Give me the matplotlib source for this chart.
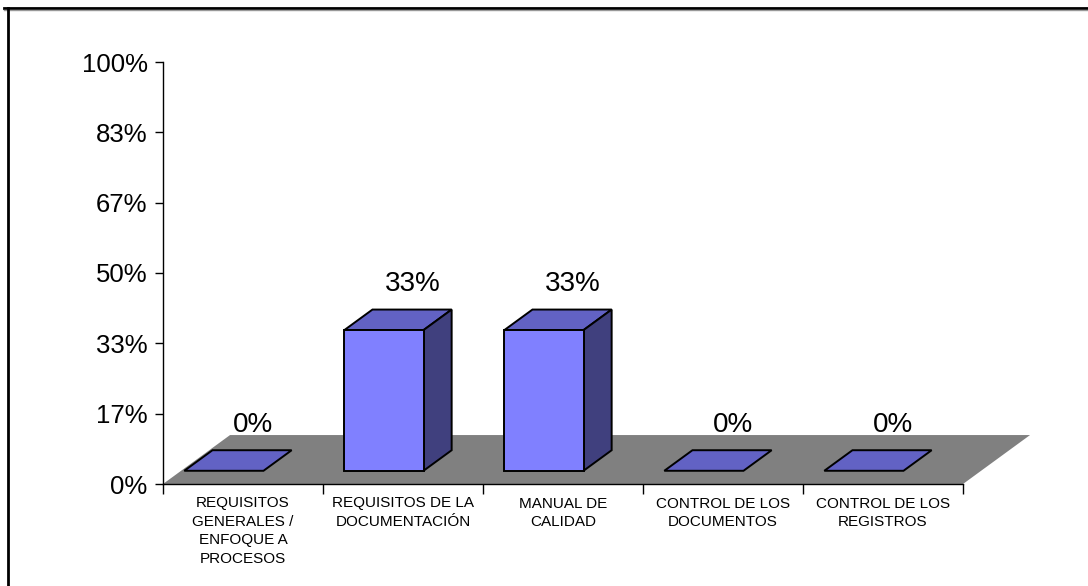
import matplotlib
matplotlib.use("Agg")
import matplotlib.pyplot as plt
from matplotlib.patches import Polygon
from matplotlib.lines import Line2D

plt.rcParams["font.family"] = ["Liberation Sans", "DejaVu Sans"]

categories = [
    "REQUISITOS\nGENERALES /\nENFOQUE A\nPROCESOS",
    "REQUISITOS DE LA\nDOCUMENTACIÓN",
    "MANUAL DE\nCALIDAD",
    "CONTROL DE LOS\nDOCUMENTOS",
    "CONTROL DE LOS\nREGISTROS",
]
values = [0, 1 / 3, 1 / 3, 0, 0]
value_labels = ["0%", "33%", "33%", "0%", "0%"]
yticks = [0, 1 / 6, 2 / 6, 3 / 6, 4 / 6, 5 / 6, 1]
yticklabels = ["0%", "17%", "33%", "50%", "67%", "83%", "100%"]

FRONT = "#8080ff"
TOP = "#6262c4"
SIDE = "#40407e"
FLOOR = "#808080"

# oblique projection of the depth axis (category units, value units)
DX, DY = 0.419, 0.116
D0, D1 = 0.27, 0.69          # bar front / back depth
BL, BR = 0.02, 0.515         # bar left / right inside its category


def proj(x, y, d):
    return (x + d * DX, y + d * DY)


W, H = 1088, 586
fig = plt.figure(figsize=(W / 100, H / 100), dpi=100)
ax = fig.add_axes([163 / W, 1 - 484 / H, 800 / W, 422 / H])
ax.set_xlim(0, len(categories))
ax.set_ylim(0, 1)

# floor
n = len(categories)
floor = [proj(0, 0, 0), proj(n, 0, 0), proj(n, 0, 1), proj(0, 0, 1)]
ax.add_patch(Polygon(floor, closed=True, facecolor=FLOOR, edgecolor="none",
                     clip_on=False, zorder=1))

ekw = dict(edgecolor="black", linewidth=1.4, joinstyle="miter", clip_on=False, zorder=3)
for i, (v, lab) in enumerate(zip(values, value_labels)):
    x0, x1 = i + BL, i + BR
    # top face
    ax.add_patch(Polygon([proj(x0, v, D0), proj(x1, v, D0), proj(x1, v, D1), proj(x0, v, D1)],
                         facecolor=TOP, **ekw))
    if v > 0:
        # right side face
        ax.add_patch(Polygon([proj(x1, 0, D0), proj(x1, 0, D1), proj(x1, v, D1), proj(x1, v, D0)],
                             facecolor=SIDE, **ekw))
        # front face
        ax.add_patch(Polygon([proj(x0, 0, D0), proj(x1, 0, D0), proj(x1, v, D0), proj(x0, v, D0)],
                             facecolor=FRONT, **ekw))
    lx, ly = proj((x0 + x1) / 2, v, D1)
    ax.text(lx + 0.006, ly + 0.06, lab, ha="center", va="center", fontsize=20, zorder=4)

# axes styling
for s in ("top", "right"):
    ax.spines[s].set_visible(False)
ax.spines["left"].set_linewidth(1.0)
ax.spines["bottom"].set_linewidth(1.0)
ax.spines["bottom"].set_zorder(5)

ax.set_yticks(yticks)
ax.set_yticklabels(yticklabels, fontsize=18.5)
ax.tick_params(axis="y", direction="out", length=6, width=1, pad=5)

ax.set_xticks(range(n + 1))
ax.set_xticklabels([])
ax.set_xticks([i + 0.5 for i in range(n)], minor=True)
ax.set_xticklabels(categories, minor=True, fontsize=11, linespacing=1.4)
ax.tick_params(axis="x", which="major", direction="out", length=7, width=1)
ax.tick_params(axis="x", which="minor", length=0, pad=9)

# outer frame
fig.add_artist(Line2D([4 / W, 1], [1 - 8 / H, 1 - 8 / H], color="black", linewidth=2))
fig.add_artist(Line2D([4 / W, 1], [1 - 10 / H, 1 - 10 / H], color="#999999", linewidth=1))
fig.add_artist(Line2D([8 / W, 8 / W], [0, 1 - 8 / H], color="black", linewidth=2))

fig.savefig("out.png", dpi=100)
